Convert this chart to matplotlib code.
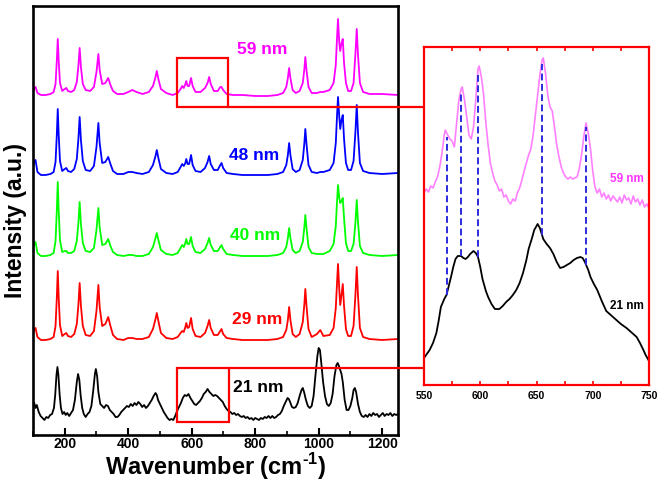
import numpy as np
import matplotlib
matplotlib.use("Agg")
import matplotlib.pyplot as plt
from matplotlib.patches import Rectangle, ConnectionPatch

plt.rcParams['font.family'] = ['Liberation Sans', 'DejaVu Sans']
plt.rcParams['font.weight'] = 'bold'
plt.rcParams['mathtext.fontset'] = 'custom'
plt.rcParams['mathtext.rm'] = 'Liberation Sans:bold'
plt.rcParams['mathtext.bf'] = 'Liberation Sans:bold'

# shared wavenumber grid (cm-1) for the 29/40/48/59 nm spectra
wn = [100, 104, 108, 114, 125, 140, 155, 165, 171, 175,
      178, 181, 185, 192, 200, 205, 210, 220, 230, 238,
      243, 247, 251, 257, 266, 280, 292, 300, 306, 310,
      318, 328, 337, 344, 352, 365, 385, 400, 413, 426,
      445, 465, 478, 486, 490, 495, 503, 520, 540, 556,
      565, 570, 575, 580, 583, 587, 592, 598, 603, 612,
      628, 642, 650, 655, 660, 670, 682, 690, 694, 699,
      710, 730, 760, 800, 840, 870, 888, 898, 903, 907,
      911, 918, 928, 940, 950, 955, 958, 962, 968, 978,
      995, 1005, 1015, 1035, 1047, 1054, 1058, 1061, 1065, 1068,
      1072, 1076, 1080, 1086, 1093, 1102, 1110, 1116, 1120, 1124,
      1130, 1140, 1160, 1200, 1250]

i59 = [3, 7, 8, 2, 0, 0, 1, 3, 11, 34,
       56, 34, 12, 4, 6, 7, 4, 3, 5, 13,
       29, 47, 28, 11, 5, 4, 8, 23, 41, 25,
       11, 12, 17, 10, 4, 1, 1, 3, 5, 3,
       1, 3, 9, 18, 24, 16, 6, 2, 0, 2,
       6, 9, 7, 11, 14, 9, 9, 17, 9, 3,
       3, 7, 12, 18, 11, 4, 4, 8, 8, 5,
       1, 0, 0, -1, -1, 0, 2, 8, 17, 27,
       17, 5, 2, 4, 12, 26, 38, 24, 8, 2,
       2, 3, 3, 5, 12, 30, 58, 76, 52, 44,
       52, 56, 32, 12, 4, 4, 12, 42, 66, 40,
       12, 3, 1, 1, 0]

i48 = [6, 14, 15, 3, 0, 0, 1, 3, 13, 40,
       66, 40, 14, 4, 6, 7, 4, 3, 6, 16,
       36, 58, 35, 14, 5, 4, 9, 28, 52, 32,
       12, 13, 18, 11, 4, 1, 1, 3, 3, 2,
       1, 3, 10, 19, 25, 17, 6, 2, 1, 3,
       8, 11, 9, 12, 16, 11, 11, 20, 10, 4,
       3, 7, 13, 19, 11, 5, 5, 10, 12, 7,
       2, 1, 0, 0, 0, 1, 3, 10, 20, 32,
       20, 6, 3, 5, 15, 32, 46, 30, 10, 3,
       2, 3, 3, 5, 12, 32, 60, 78, 58, 46,
       55, 60, 36, 12, 5, 5, 14, 44, 70, 42,
       12, 4, 2, 1, 2]

i40 = [6, 13, 14, 3, 0, 0, 1, 3, 15, 45,
       74, 45, 16, 4, 5, 5, 3, 3, 5, 15,
       33, 54, 32, 13, 5, 4, 8, 26, 48, 29,
       11, 12, 17, 10, 4, 1, 0, 1, 1, 0,
       0, 2, 9, 18, 23, 16, 6, 2, 1, 3,
       8, 11, 9, 13, 17, 12, 12, 19, 10, 4,
       3, 7, 13, 18, 11, 5, 5, 9, 11, 7,
       2, 1, 0, 0, 0, 1, 3, 9, 18, 28,
       18, 6, 3, 5, 14, 29, 41, 27, 9, 3,
       2, 2, 2, 5, 12, 30, 55, 71, 58, 53,
       55, 58, 38, 13, 5, 5, 12, 34, 56, 34,
       10, 3, 1, 0, 1]

i29 = [5, 11, 12, 3, 0, 0, 1, 3, 14, 42,
       69, 42, 15, 4, 6, 7, 4, 3, 6, 16,
       35, 57, 34, 14, 5, 4, 9, 29, 55, 33,
       14, 16, 23, 14, 5, 1, 0, 2, 2, 1,
       1, 3, 11, 21, 27, 19, 7, 2, 1, 3,
       7, 9, 8, 13, 17, 12, 13, 22, 11, 4,
       3, 7, 14, 20, 12, 5, 5, 9, 11, 6,
       2, 1, 0, 0, 0, 1, 3, 10, 20, 33,
       20, 6, 3, 6, 18, 36, 51, 33, 11, 3,
       6, 10, 4, 5, 12, 32, 58, 76, 50, 35,
       45, 56, 34, 11, 4, 4, 14, 46, 73, 44,
       12, 3, 1, 0, 1]

# 21 nm spectrum (noisier, own grid)
wn21 = [100, 104, 108, 112, 118, 124, 130, 136, 142, 148,
        154, 160, 166, 170, 174, 177, 180, 184, 188, 193,
        198, 203, 208, 214, 220, 226, 232, 238, 242, 246,
        250, 255, 260, 266, 272, 278, 284, 290, 295, 298,
        302, 306, 312, 318, 324, 330, 336, 342, 348, 354,
        360, 366, 372, 378, 384, 390, 396, 402, 408, 414,
        420, 426, 432, 438, 444, 450, 456, 462, 468, 474,
        480, 486, 490, 494, 500, 506, 512, 518, 524, 530,
        536, 542, 548, 554, 560, 566, 572, 578, 584, 590,
        596, 602, 608, 614, 620, 626, 632, 638, 644, 650,
        656, 662, 668, 674, 680, 686, 692, 698, 704, 710,
        716, 722, 728, 734, 740, 746, 752, 758, 764, 770,
        776, 782, 788, 794, 800, 806, 812, 818, 824, 830,
        836, 842, 848, 854, 860, 866, 872, 878, 884, 890,
        896, 902, 906, 910, 916, 922, 928, 934, 940, 946,
        950, 954, 960, 966, 972, 978, 984, 990, 996, 1000,
        1004, 1008, 1014, 1020, 1026, 1032, 1038, 1044, 1050, 1056,
        1060, 1064, 1068, 1072, 1076, 1082, 1088, 1094, 1100, 1106,
        1110, 1114, 1118, 1124, 1130, 1136, 1142, 1148, 1154, 1160,
        1166, 1172, 1178, 1184, 1190, 1196, 1202, 1208, 1214, 1220,
        1226, 1232, 1238, 1244, 1250]

i21 = [14, 17, 12, 15, 8, 4, 2, 0, 3, 2,
       5, 6, 12, 25, 45, 53, 45, 25, 12, 6,
       8, 5, 7, 4, 7, 10, 20, 38, 46, 40,
       25, 12, 6, 3, 6, 8, 14, 30, 46, 51,
       44, 28, 16, 14, 12, 15, 14, 10, 8, 6,
       3, 3, 5, 8, 10, 12, 14, 13, 16, 14,
       17, 15, 18, 16, 13, 15, 12, 14, 17, 20,
       24, 27, 25, 20, 16, 12, 8, 5, 2, 0,
       1, 0, 4, 9, 13, 17, 22, 25, 24, 26,
       22, 19, 16, 15, 17, 19, 22, 26, 28, 31,
       28, 26, 24, 25, 24, 22, 20, 18, 14, 11,
       9, 8, 6, 7, 5, 6, 4, 3, 4, 2,
       3, 1, 2, 0, 2, 1, 0, 2, 1, 3,
       2, 4, 2, 4, 2, 3, 5, 6, 9, 14,
       18, 22, 21, 18, 13, 12, 13, 17, 24, 30,
       32, 28, 20, 14, 12, 14, 24, 45, 64, 72,
       70, 58, 38, 24, 16, 14, 17, 26, 44, 55,
       57, 54, 50, 46, 38, 20, 10, 10, 14, 22,
       30, 32, 28, 16, 8, 4, 3, 5, 3, 6,
       4, 7, 5, 6, 3, 5, 7, 4, 6, 5,
       7, 4, 6, 5, 6]

labels = ['59 nm', '48 nm', '40 nm', '29 nm', '21 nm']
colors = ['#ff00ff', '#0000ff', '#00ff00', '#ff0000', 'black']
offsets = [340, 260, 179, 95, 15]
label_pos = [(822, 386), (797, 280), (800, 200), (806, 116), (810, 48)]

# inset (550-750 cm-1): 59 nm and 21 nm
inset59 = [(550, 192), (552, 196), (554, 193), (556, 199), (558, 197), (560, 203),
           (562, 208), (564, 218), (566, 232), (568, 250), (569, 255), (571, 250),
           (573, 246), (575, 244), (577, 238), (579, 262), (581, 285), (583, 296),
           (584, 298), (586, 285), (588, 268), (590, 250), (592, 246), (594, 258),
           (596, 285), (598, 316), (599, 319), (601, 308), (603, 290), (605, 262),
           (607, 240), (609, 222), (611, 212), (613, 204), (615, 200), (617, 194),
           (619, 196), (621, 188), (623, 190), (625, 184), (627, 181), (629, 186),
           (631, 184), (633, 192), (635, 197), (637, 205), (639, 214), (641, 222),
           (643, 230), (645, 236), (647, 250), (649, 270), (651, 290), (653, 310),
           (655, 325), (656, 327), (658, 312), (660, 290), (662, 278), (664, 274),
           (666, 258), (668, 240), (670, 228), (672, 218), (674, 212), (676, 208),
           (678, 206), (680, 208), (682, 206), (684, 207), (686, 208), (688, 216),
           (690, 230), (692, 248), (694, 262), (696, 252), (698, 236), (700, 214),
           (702, 198), (704, 192), (706, 196), (708, 188), (710, 192), (712, 186),
           (714, 190), (716, 184), (718, 189), (720, 186), (722, 183), (724, 188),
           (726, 182), (728, 190), (730, 185), (732, 187), (734, 181), (736, 189),
           (738, 183), (740, 186), (742, 180), (744, 185), (746, 178), (748, 181),
           (750, 177)]

inset21 = [(550, 27), (555, 35), (558, 42), (561, 52), (563, 64), (565, 78),
           (568, 86), (570, 90), (572, 99), (574, 108), (576, 118), (578, 126),
           (580, 129), (583, 129), (585, 127), (587, 126), (589, 128), (591, 131),
           (594, 134), (596, 132), (598, 128), (600, 118), (602, 106), (605, 94),
           (607, 88), (610, 81), (613, 76), (617, 76), (620, 79), (623, 83),
           (626, 86), (629, 90), (632, 95), (635, 102), (638, 112), (641, 125),
           (643, 136), (646, 147), (648, 155), (651, 161), (653, 157), (656, 146),
           (659, 141), (662, 137), (665, 131), (668, 123), (671, 117), (674, 118),
           (677, 120), (680, 122), (683, 125), (686, 127), (689, 128), (691, 127),
           (693, 123), (696, 115), (698, 108), (701, 101), (704, 95), (708, 84),
           (712, 74), (716, 70), (721, 65), (725, 61), (730, 57), (735, 52),
           (739, 48), (742, 42), (745, 35), (747, 30), (750, 24)]

peaks = [570, 583, 598, 655, 694]

fig = plt.figure(figsize=(6.61, 4.91), dpi=100)
ax = fig.add_axes([33/661, 1 - 435/491, 365/661, 429/491])

ax.plot(wn, np.array(i59) + offsets[0], color=colors[0], lw=1.3)
ax.plot(wn, np.array(i48) + offsets[1], color=colors[1], lw=1.3)
ax.plot(wn, np.array(i40) + offsets[2], color=colors[2], lw=1.3)
ax.plot(wn, np.array(i29) + offsets[3], color=colors[3], lw=1.3)
ax.plot(wn21, np.array(i21) + offsets[4], color=colors[4], lw=1.3)

for lab, col, (lx, ly) in zip(labels, colors, label_pos):
    ax.text(lx, ly, lab, color=col, fontsize=12.5, fontweight='bold',
            ha='center', va='center')

ax.set_xlim(100, 1250)
ax.set_ylim(0, 429)
ax.set_yticks([])
ax.set_xticks([200, 400, 600, 800, 1000, 1200])
ax.set_xticks(np.arange(100, 1250, 100), minor=True)
ax.tick_params(axis='x', which='major', direction='in', length=5, width=1.5,
               labelsize=10, pad=1.5)
ax.tick_params(axis='x', which='minor', direction='in', length=3, width=1.2)
for lbl in ax.get_xticklabels():
    lbl.set_fontweight('bold')
for s in ax.spines.values():
    s.set_linewidth(1.9)
ax.set_xlabel('Wavenumber (cm$^{\u2010\\mathbf{1}}$)', fontsize=17, fontweight='bold', labelpad=0)
ax.set_ylabel('Intensity (a.u.)', fontsize=16.5, fontweight='bold', labelpad=4)

# zoom boxes
ax.add_patch(Rectangle((553, 328), 162, 49, fill=False, ec='red', lw=1.6, zorder=5))
ax.add_patch(Rectangle((553, 13), 165, 54, fill=False, ec='red', lw=1.6, zorder=5))

# inset
axin = fig.add_axes([424/661, 1 - 385/491, 225/661, 338/491])
w59, h59 = np.array(inset59).T
w21, h21 = np.array(inset21).T
axin.plot(w59, h59, color='#ff80ff', lw=1.2)
axin.plot(w21, h21, color='black', lw=1.3)
for p in peaks:
    axin.vlines(p, np.interp(p, w21, h21), np.interp(p, w59, h59) - 4,
                colors='#2b2bdd', lw=1.4, linestyles=(0, (3.5, 1.8)))
axin.text(730, 206, '59 nm', color='#ff33ff', fontsize=8.5, fontweight='bold',
          ha='center', va='center')
axin.text(730, 79, '21 nm', color='black', fontsize=8.5, fontweight='bold',
          ha='center', va='center')
axin.set_xlim(550, 750)
axin.set_ylim(0, 338)
axin.set_yticks([])
axin.set_xticks([550, 600, 650, 700, 750])
axin.set_xticks(np.arange(575, 750, 50), minor=True)
axin.tick_params(axis='x', which='both', direction='in', top=True, color='red',
                 length=3, width=1.2, labelsize=7.5, pad=4)
for lbl in axin.get_xticklabels():
    lbl.set_fontweight('bold')
for s in axin.spines.values():
    s.set_color('red')
    s.set_linewidth(1.6)

# connectors from boxes to inset
for xa, ya, yb in [(715, 328, 278), (718, 67, 17)]:
    con = ConnectionPatch(xyA=(xa, ya), coordsA=ax.transData,
                          xyB=(550, yb), coordsB=axin.transData,
                          color='red', lw=1.6)
    fig.add_artist(con)

fig.savefig('out.png', dpi=100)
